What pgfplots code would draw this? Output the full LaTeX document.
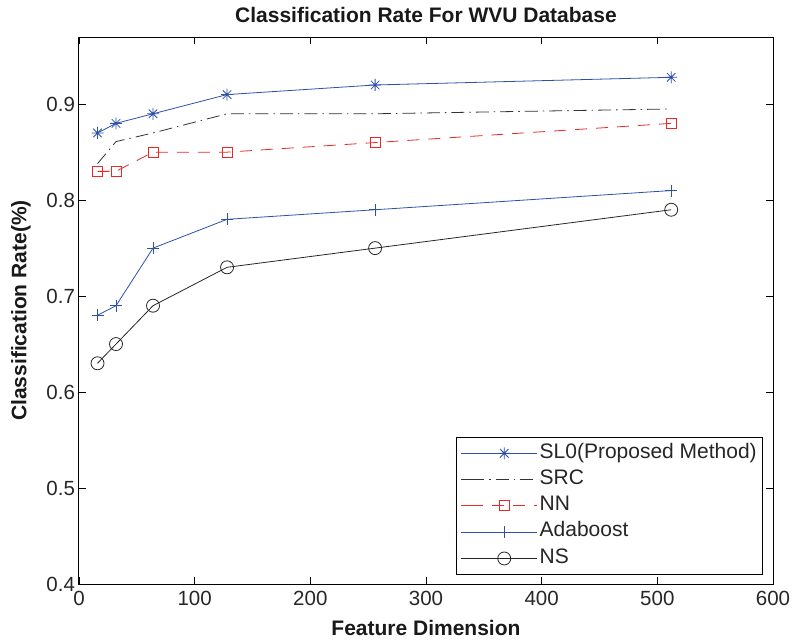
\documentclass[border=0pt]{standalone}
\usepackage{pgfplots}
\pgfplotsset{compat=1.18}
\usepackage{fontspec}
\setmainfont{Liberation Sans}
\definecolor{mblue}{RGB}{45,80,170}
\definecolor{mred}{RGB}{235,40,40}
\pgfdeclareplotmark{star8}{%
  \pgfpathmoveto{\pgfqpoint{0pt}{\pgfplotmarksize}}%
  \pgfpathlineto{\pgfqpoint{0pt}{-\pgfplotmarksize}}%
  \pgfpathmoveto{\pgfqpoint{\pgfplotmarksize}{0pt}}%
  \pgfpathlineto{\pgfqpoint{-\pgfplotmarksize}{0pt}}%
  \pgfpathmoveto{\pgfqpoint{0.707\pgfplotmarksize}{0.707\pgfplotmarksize}}%
  \pgfpathlineto{\pgfqpoint{-0.707\pgfplotmarksize}{-0.707\pgfplotmarksize}}%
  \pgfpathmoveto{\pgfqpoint{0.707\pgfplotmarksize}{-0.707\pgfplotmarksize}}%
  \pgfpathlineto{\pgfqpoint{-0.707\pgfplotmarksize}{0.707\pgfplotmarksize}}%
  \pgfusepathqstroke}
\begin{document}
\begin{tikzpicture}
\begin{axis}[
  scale only axis,
  width=694pt, height=547pt,
  xmin=0, xmax=600, ymin=0.4, ymax=0.97,
  xtick={0,100,...,600},
  ytick={0.4,0.5,0.6,0.7,0.8,0.9},
  yticklabel style={/pgf/number format/fixed,/pgf/number format/precision=1, xshift=-0.5pt},
  xticklabel style={yshift=-4pt},
  /pgf/number format/assume math mode=true,
  tick align=inside,
  major tick length=7pt,
  axis line style={line width=1pt},
  every tick/.style={black, line width=0.8pt},
  tick label style={font=\fontsize{20.5}{22}\selectfont, text=black!85},
  title={\bfseries Classification Rate For WVU Database},
  title style={font=\fontsize{21}{22}\selectfont, at={(axis description cs:0.5,1)}, anchor=base, yshift=9pt, text=black!90},
  xlabel={\bfseries Feature Dimension},
  ylabel={\bfseries Classification Rate(\%)},
  label style={font=\fontsize{21}{22}\selectfont, text=black!90},
  xlabel style={at={(axis description cs:0.5,0)}, anchor=base, yshift=-51pt},
  ylabel style={at={(axis description cs:-0.076,0.5)}, anchor=base},
  legend style={at={(0.986,0.016)}, anchor=south east, font=\fontsize{21}{22}\selectfont, draw=black, line width=1pt, inner sep=4pt, row sep=1.8pt, text=black!85,
    nodes={inner sep=2pt, text height=15pt, text depth=5.5pt}},
  legend cell align=left,
  legend image code/.code={
    \path (-10pt,0pt) -- (0pt,0pt);
    \draw[#1, mark=none] (0pt,0pt) -- (66pt,0pt);
    \draw[#1, mark options={solid}] plot coordinates {(33pt,0pt)};
  },
]
\addplot[mblue, line width=0.8pt, mark=star8, mark size=6pt, mark options={solid}] coordinates {
(16,0.870) (32,0.880) (64,0.890) (128,0.910) (256,0.920) (512,0.928)};
\addlegendentry{SL0(Proposed Method)}
\addplot[black!80, line width=0.8pt, dash pattern=on 13pt off 5pt on 1.5pt off 5pt] coordinates {
(16,0.838) (32,0.861) (64,0.870) (128,0.890) (256,0.890) (512,0.895)};
\addlegendentry{SRC}
\addplot[mred, line width=0.8pt, dash pattern=on 12pt off 9pt, mark=square, mark size=5pt, mark options={solid}] coordinates {
(16,0.830) (32,0.830) (64,0.850) (128,0.850) (256,0.860) (512,0.880)};
\addlegendentry{NN}
\addplot[mblue, line width=0.8pt, mark=+, mark size=6pt, mark options={solid}] coordinates {
(16,0.680) (32,0.690) (64,0.750) (128,0.780) (256,0.790) (512,0.810)};
\addlegendentry{Adaboost}
\addplot[black!85, line width=0.8pt, mark=o, mark size=6.5pt, mark options={solid}] coordinates {
(16,0.630) (32,0.650) (64,0.690) (128,0.730) (256,0.750) (512,0.790)};
\addlegendentry{NS}
\end{axis}
\pgfresetboundingbox
\path (-79pt,-59pt) rectangle (714pt,584pt);
\end{tikzpicture}
\end{document}
